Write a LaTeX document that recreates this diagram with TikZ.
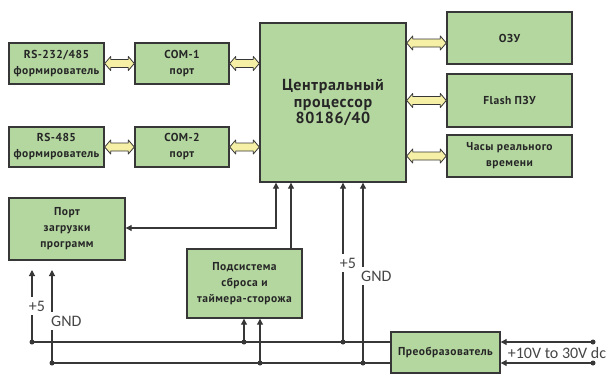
\documentclass[tikz,border=0pt]{standalone}
\usepackage{fontspec}
\setmainfont{PT Sans}
\newfontfamily\boxfont[LetterSpace=4]{PT Sans}
\newfontfamily\labfont{Carlito}
\usetikzlibrary{calc,arrows.meta}
\definecolor{boxgreen}{RGB}{180,215,160}
\definecolor{edge}{RGB}{55,55,55}
\definecolor{busyellow}{RGB}{245,240,165}
\definecolor{labgray}{RGB}{70,70,70}
\tikzset{
 blk/.style={draw=edge, fill=boxgreen, line width=1.4pt, align=center, inner sep=0pt,
   font=\boxfont\bfseries\fontsize{11.5}{16}\selectfont, text=black!85},
 wire/.style={draw=edge, line width=1.1pt},
 tip/.style={-{Triangle[length=6pt,width=6pt]}},
 twotip/.style={{Triangle[length=6pt,width=6pt]}-{Triangle[length=6pt,width=6pt]}},
 dot/.style={circle, fill=edge, inner sep=0pt, minimum size=5pt},
 lab/.style={font=\labfont\fontsize{16}{16}\selectfont, text=labgray, inner sep=1pt},
 fat/.style={fill=busyellow, draw=edge, line width=0.8pt, line join=round},
}
\newcommand\fatlink[2]{%
 \filldraw[fat] (#1) -- ++(6,-7) -- ++(0,3) -- ($(#2)+(-6,-4)$) -- ++(0,-3) -- (#2)
   -- ++(-6,7) -- ++(0,-3) -- ($(#1)+(6,4)$) -- ++(0,3) -- cycle;}
\begin{document}
\begin{tikzpicture}[x=1pt,y=-1pt]
\fill[white] (0,0) rectangle (613,376);
\useasboundingbox (0,0) rectangle (613,376);

% blocks
\node[blk, minimum width=95pt, minimum height=41pt] (rs1) at (56.5,63.5) {RS-232/485\\формирователь};
\node[blk, minimum width=94pt, minimum height=41pt] (com1) at (182,63.5) {COM-1\\порт};
\node[blk, minimum width=95pt, minimum height=40pt] (rs2) at (56.5,147) {RS-485\\формирователь};
\node[blk, minimum width=94pt, minimum height=40pt] (com2) at (182,147) {COM-2\\порт};
\node[blk, minimum width=146pt, minimum height=159pt,
  font=\boxfont\bfseries\fontsize{16}{16.5}\selectfont] (cpu) at (333,102.5) {Центральный\\процессор\\80186/40};
\node[blk, minimum width=125pt, minimum height=52pt] (ram) at (509.5,38) {ОЗУ};
\node[blk, minimum width=125pt, minimum height=53pt] (flash) at (509.5,100.5) {Flash ПЗУ};
\node[blk, minimum width=125pt, minimum height=42pt] (rtc) at (509.5,156) {Часы реального\\времени};
\node[blk, minimum width=116pt, minimum height=62pt] (load) at (67,229) {Порт\\загрузки\\программ};
\node[blk, minimum width=115pt, minimum height=69pt] (wd) at (244.5,283.5) {Подсистема\\сброса и\\таймера-сторожа};
\node[blk, minimum width=109pt, minimum height=41pt] (conv) at (445.5,352.5) {Преобразователь};

% fat bus links
\coordinate (c1) at (cpu.west|-com1.east);
\coordinate (c2) at (cpu.west|-com2.east);
\coordinate (r0) at ($(ram.west)+(0,5)$);
\coordinate (r1) at (cpu.east|-r0);
\coordinate (f0) at (flash.west);
\coordinate (f1) at (cpu.east|-f0);
\coordinate (t0) at (rtc.west);
\coordinate (t1) at (cpu.east|-t0);
\fatlink{rs1.east}{com1.west}
\fatlink{com1.east}{c1}
\fatlink{rs2.east}{com2.west}
\fatlink{com2.east}{c2}
\fatlink{r1}{r0}
\fatlink{f1}{f0}
\fatlink{t1}{t0}

% junction dots
\node[dot] (d1) at (32,342) {};
\node[dot] (d2) at (52,363) {};
\node[dot] (d3) at (244,342) {};
\node[dot] (d4) at (260,363) {};
\node[dot] (d5) at (343,342) {};
\node[dot] (d6) at (363,363) {};
\node[dot] (d7) at (593,342) {};
\node[dot] (d8) at (593,363) {};

% power buses
\draw[wire] (d1.center) -- (conv.west|-d1);
\draw[wire] (d2.center) -- (conv.west|-d2);
\draw[wire,tip] (d7.center) -- (conv.east|-d7);
\draw[wire,tip] (d8.center) -- (conv.east|-d8);

% up feeds
\coordinate (u1) at (32,270);
\coordinate (u2) at (52,270);
\draw[wire,tip] (d1.center) -- (u1);
\draw[wire,tip] (d2.center) -- (u2);
\draw[wire,tip] (d3.center) -- (d3.center|-wd.south);
\draw[wire,tip] (d4.center) -- (d4.center|-wd.south);
\draw[wire,tip] (d5.center) -- (d5.center|-cpu.south);
\draw[wire,tip] (d6.center) -- (d6.center|-cpu.south);

% cpu to watchdog and load port
\coordinate (w1) at (291,0);
\draw[wire,tip] (w1|-wd.north) -- (w1|-cpu.south);
\coordinate (l1) at (276,228);
\draw[wire,twotip] (load.east|-l1) -- (l1) -- (l1|-cpu.south);

% labels
\node[lab, fill=white, inner ysep=4pt] at (37,306) {+5};
\node[lab, fill=white, anchor=west, inner ysep=4pt] at (50,321) {GND};
\node[lab, fill=white, inner ysep=4pt] at (348,263) {+5};
\node[lab, fill=white, anchor=west, inner ysep=4pt] at (360,276) {GND};
\node[lab] at (557,353) {+10V to 30V dc};
\end{tikzpicture}
\end{document}
